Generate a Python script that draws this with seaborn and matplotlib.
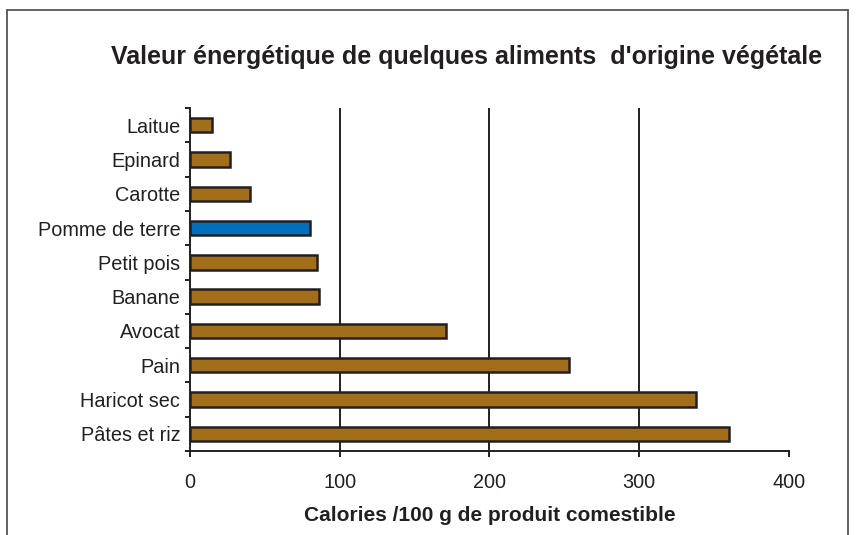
import pandas as pd
import matplotlib.pyplot as plt
import seaborn as sns
from matplotlib.lines import Line2D

# données
aliments = ['Laitue', 'Epinard', 'Carotte', 'Pomme de terre', 'Petit pois',
            'Banane', 'Avocat', 'Pain', 'Haricot sec', 'Pâtes et riz']
calories = [15, 27, 40, 80, 85, 86, 171, 253, 338, 360]
x_ticks = [0, 100, 200, 300, 400]

brun = '#A36E1A'
bleu = '#0070BA'
noir = '#231F20'
couleurs = {a: (bleu if a == 'Pomme de terre' else brun) for a in aliments}

df = pd.DataFrame({'Aliment': aliments, 'Calories': calories})

sns.set_style('white')
plt.rcParams['font.family'] = ['Liberation Sans', 'DejaVu Sans']

fig = plt.figure(figsize=(8.56, 5.35), dpi=100)
ax = fig.add_axes([0.222, 0.157, 0.6995, 0.641])

sns.barplot(data=df, x='Calories', y='Aliment', hue='Aliment', palette=couleurs,
            order=aliments, legend=False, width=0.42, edgecolor=noir,
            linewidth=1.8, saturation=1, ax=ax)

# lignes verticales du quadrillage
for v in x_ticks[1:-1]:
    ax.axvline(v, color=noir, lw=1.4, zorder=0)

ax.set_xlim(0, 400)
ax.set_ylim(len(aliments) - 0.5, -0.5)
ax.set_xticks(x_ticks)
ax.set_xticklabels([str(v) for v in x_ticks], fontsize=14.3, color=noir)
ax.set_yticks(range(len(aliments)))
ax.set_yticklabels(aliments, fontsize=14.3, color=noir)
ax.set_yticks([i - 0.5 for i in range(len(aliments) + 1)], minor=True)
ax.tick_params(axis='y', which='major', length=0, pad=7)
ax.tick_params(axis='y', which='minor', length=3.6, width=1.4, color=noir, left=True)
ax.tick_params(axis='x', which='major', length=4, width=1.4, color=noir,
               bottom=True, pad=12)

for s in ['top', 'right']:
    ax.spines[s].set_visible(False)
for s in ['left', 'bottom']:
    ax.spines[s].set_color(noir)
    ax.spines[s].set_linewidth(1.4)

ax.set_ylabel('')
ax.set_xlabel('Calories /100 g de produit comestible', fontsize=15,
              fontweight='bold', labelpad=10, color=noir)

fig.text(0.5456, 0.893, "Valeur énergétique de quelques aliments  d'origine végétale",
         ha='center', va='center', fontsize=18, fontweight='bold', color=noir)

# cadre autour de la figure
cadre = dict(color='#555555', lw=1.3, transform=fig.transFigure)
fig.add_artist(Line2D([0.0082, 0.0082], [0, 0.981], **cadre))
fig.add_artist(Line2D([0.0082, 0.9907], [0.981, 0.981], **cadre))
fig.add_artist(Line2D([0.9907, 0.9907], [0, 0.981], **cadre))

fig.savefig('out.png', dpi=100)
